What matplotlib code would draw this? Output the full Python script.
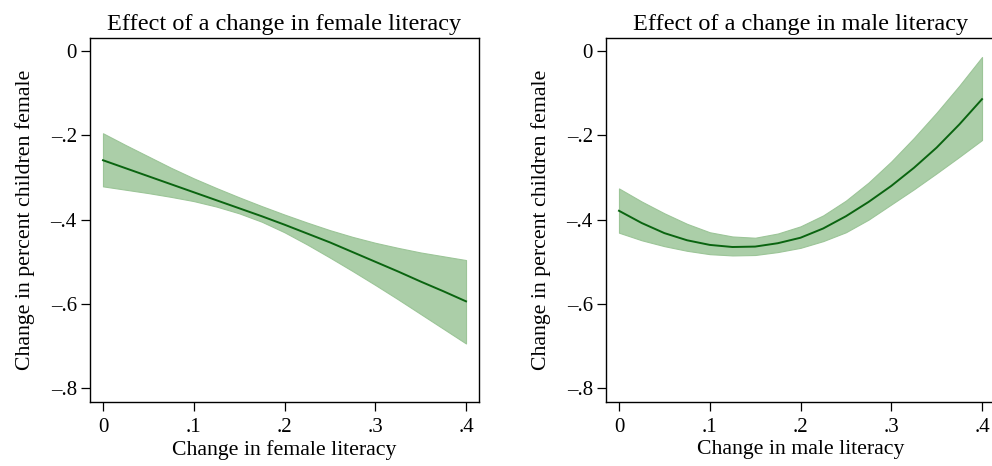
import matplotlib.pyplot as plt
import numpy as np

plt.rcParams["font.family"] = ["Liberation Serif", "DejaVu Serif"]

# marginal effect of literacy change on percent children female
x_vals = [0.0, 0.025, 0.05, 0.075, 0.1, 0.125, 0.15, 0.175, 0.2,
          0.225, 0.25, 0.275, 0.3, 0.325, 0.35, 0.375, 0.4]

female_fit = [-0.259, -0.278, -0.297, -0.316, -0.335, -0.354, -0.373, -0.392, -0.412,
              -0.433, -0.454, -0.477, -0.500, -0.523, -0.547, -0.570, -0.594]
female_hi = [-0.195, -0.223, -0.250, -0.277, -0.302, -0.325, -0.347, -0.368, -0.388,
             -0.407, -0.425, -0.441, -0.455, -0.467, -0.478, -0.487, -0.496]
female_lo = [-0.321, -0.329, -0.337, -0.346, -0.356, -0.369, -0.385, -0.405, -0.430,
             -0.459, -0.490, -0.522, -0.555, -0.589, -0.624, -0.659, -0.694]

male_fit = [-0.379, -0.408, -0.432, -0.449, -0.460, -0.465, -0.464, -0.456, -0.443,
            -0.421, -0.392, -0.358, -0.320, -0.277, -0.229, -0.174, -0.114]
male_hi = [-0.326, -0.357, -0.385, -0.410, -0.430, -0.440, -0.443, -0.433, -0.416,
           -0.390, -0.355, -0.312, -0.262, -0.206, -0.146, -0.082, -0.014]
male_lo = [-0.431, -0.449, -0.463, -0.474, -0.482, -0.485, -0.484, -0.477, -0.467,
           -0.451, -0.430, -0.400, -0.364, -0.328, -0.290, -0.251, -0.211]

xticks = [0, 0.1, 0.2, 0.3, 0.4]
xticklabels = ["0", ".1", ".2", ".3", ".4"]
yticks = [0, -0.2, -0.4, -0.6, -0.8]
yticklabels = ["0", "\u2013.2", "\u2013.4", "\u2013.6", "\u2013.8"]

FILL = "#abcea8"
EDGE = "#9cc598"
LINE = "#0a6410"

panels = [
    ("Effect of a change in female literacy", "Change in female literacy",
     female_fit, female_hi, female_lo, [90 / 992, 0.1373, 389 / 992, 0.781]),
    ("Effect of a change in male literacy", "Change in male literacy",
     male_fit, male_hi, male_lo, [606 / 992, 0.1373, 389 / 992, 0.781]),
]

fig = plt.figure(figsize=(9.92, 4.66), dpi=100)
fig.patch.set_facecolor("white")

for title, xlabel, fit, hi, lo, pos in panels:
    ax = fig.add_axes(pos)
    ax.fill_between(x_vals, lo, hi, color=FILL, edgecolor=EDGE, linewidth=0.8, zorder=1)
    ax.plot(x_vals, fit, color=LINE, linewidth=1.4, zorder=2)
    ax.set_xlim(-0.0143, 0.4143)
    ax.set_ylim(-0.833, 0.031)
    ax.set_xticks(xticks)
    ax.set_xticklabels(xticklabels)
    ax.set_yticks(yticks)
    ax.set_yticklabels(yticklabels)
    ax.tick_params(direction="out", length=6.5, width=0.9, labelsize=15, pad=3)
    ax.tick_params(axis="x", pad=5)
    for sp in ax.spines.values():
        sp.set_linewidth(1.0)
        sp.set_color("black")
    ax.set_title(title, fontsize=17.5, pad=6)
    ax.set_xlabel(xlabel, fontsize=15.7, labelpad=2)
    ax.set_ylabel("Change in percent children female", fontsize=15.7, labelpad=11)

fig.savefig("out.png", dpi=100, facecolor="white")
